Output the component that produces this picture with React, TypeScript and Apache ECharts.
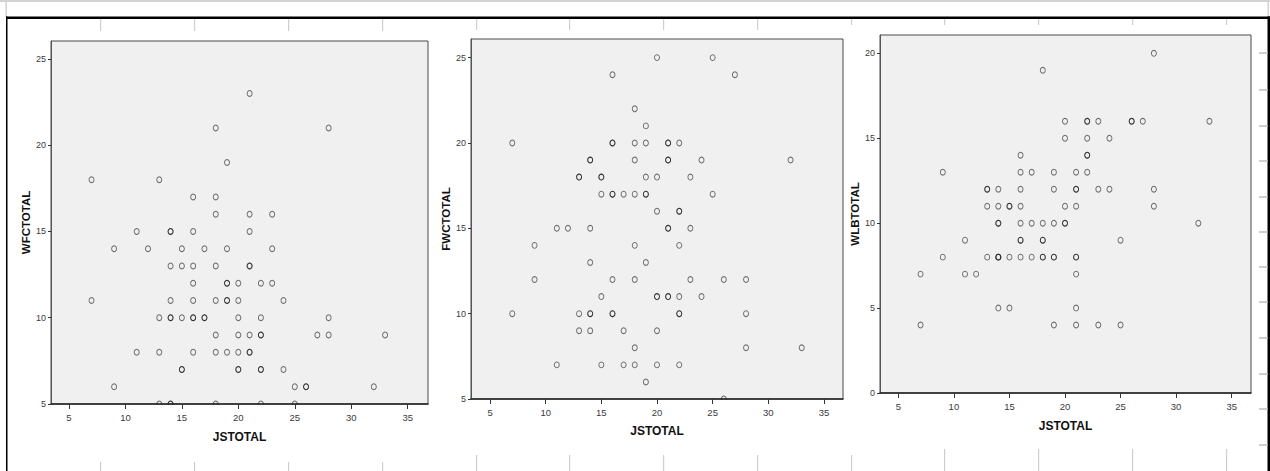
import React, { useEffect, useRef } from "react";
import * as echarts from "echarts";

// ---- Data ----
const xTicks = [5, 10, 15, 20, 25, 30, 35];
const wfcTicks = [5, 10, 15, 20, 25];
const fwcTicks = [5, 10, 15, 20, 25];
const wlbTicks = [0, 5, 10, 15, 20];

// [JSTOTAL, WFCTOTAL]
const wfcPoints: [number, number][] = [
  [21, 23],
  [18, 21], [28, 21],
  [19, 19],
  [7, 18], [13, 18],
  [16, 17], [18, 17],
  [18, 16], [21, 16], [23, 16],
  [11, 15], [14, 15], [14, 15], [16, 15], [21, 15],
  [9, 14], [12, 14], [15, 14], [17, 14], [19, 14], [23, 14],
  [14, 13], [15, 13], [16, 13], [18, 13], [21, 13], [21, 13],
  [16, 12], [19, 12], [19, 12], [20, 12], [22, 12], [23, 12],
  [7, 11], [14, 11], [16, 11], [18, 11], [19, 11], [19, 11], [20, 11], [24, 11],
  [13, 10], [14, 10], [14, 10], [15, 10], [16, 10], [16, 10], [17, 10], [17, 10], [20, 10], [22, 10], [28, 10],
  [18, 9], [20, 9], [21, 9], [22, 9], [22, 9], [27, 9], [28, 9], [33, 9],
  [11, 8], [13, 8], [16, 8], [18, 8], [19, 8], [20, 8], [21, 8], [21, 8],
  [15, 7], [15, 7], [20, 7], [20, 7], [22, 7], [22, 7], [24, 7],
  [9, 6], [25, 6], [26, 6], [26, 6], [32, 6],
  [13, 5], [14, 5], [14, 5], [18, 5], [22, 5], [25, 5],
];

// [JSTOTAL, FWCTOTAL]
const fwcPoints: [number, number][] = [
  [20, 25], [25, 25],
  [16, 24], [27, 24],
  [18, 22],
  [19, 21],
  [7, 20], [16, 20], [16, 20], [18, 20], [19, 20], [21, 20], [21, 20], [22, 20],
  [14, 19], [14, 19], [18, 19], [21, 19], [21, 19], [24, 19], [32, 19],
  [13, 18], [13, 18], [15, 18], [15, 18], [19, 18], [20, 18], [23, 18],
  [15, 17], [16, 17], [16, 17], [17, 17], [18, 17], [19, 17], [19, 17], [25, 17],
  [20, 16], [22, 16], [22, 16],
  [11, 15], [12, 15], [14, 15], [21, 15], [21, 15], [23, 15],
  [9, 14], [18, 14], [22, 14],
  [14, 13], [19, 13],
  [9, 12], [16, 12], [18, 12], [23, 12], [26, 12], [28, 12],
  [15, 11], [20, 11], [20, 11], [21, 11], [21, 11], [22, 11], [24, 11],
  [7, 10], [13, 10], [14, 10], [14, 10], [16, 10], [16, 10], [22, 10], [22, 10], [28, 10],
  [13, 9], [14, 9], [17, 9], [20, 9],
  [18, 8], [28, 8], [33, 8],
  [11, 7], [15, 7], [17, 7], [18, 7], [20, 7], [22, 7],
  [19, 6],
  [26, 5],
];

// [JSTOTAL, WLBTOTAL]
const wlbPoints: [number, number][] = [
  [28, 20],
  [18, 19],
  [20, 16], [22, 16], [22, 16], [23, 16], [26, 16], [26, 16], [27, 16], [33, 16],
  [20, 15], [22, 15], [24, 15],
  [16, 14], [22, 14], [22, 14],
  [9, 13], [16, 13], [17, 13], [19, 13], [21, 13], [22, 13],
  [13, 12], [13, 12], [14, 12], [16, 12], [19, 12], [21, 12], [21, 12], [23, 12], [24, 12], [28, 12],
  [13, 11], [14, 11], [15, 11], [15, 11], [16, 11], [20, 11], [21, 11], [28, 11],
  [14, 10], [14, 10], [16, 10], [17, 10], [18, 10], [19, 10], [20, 10], [20, 10], [32, 10],
  [11, 9], [16, 9], [16, 9], [18, 9], [18, 9], [25, 9],
  [9, 8], [13, 8], [14, 8], [14, 8], [14, 8], [15, 8], [16, 8], [17, 8], [18, 8], [18, 8], [19, 8], [19, 8], [21, 8], [21, 8],
  [7, 7], [11, 7], [12, 7], [21, 7],
  [14, 5], [15, 5], [21, 5],
  [7, 4], [19, 4], [21, 4], [23, 4], [25, 4],
];

// ---- Layout ----
const W = 1270;
const H = 471;
const NARROW = "'Liberation Sans Narrow', 'Arial Narrow', 'Liberation Sans', Arial, sans-serif";
const SANS = "'Liberation Sans', Arial, sans-serif";

const panels = [
  { name: "WFCTOTAL", points: wfcPoints, yTicks: wfcTicks, left: 51, top: 41, width: 377, height: 363, xMin: 3.41, xMax: 36.8, yMin: 5, yMax: 26.04, yGap: 12, xGap: 27, clipBottom: true },
  { name: "FWCTOTAL", points: fwcPoints, yTicks: fwcTicks, left: 471, top: 39, width: 372, height: 360, xMin: 3.29, xMax: 36.71, yMin: 5, yMax: 26.09, yGap: 12, xGap: 26, clipBottom: true },
  { name: "WLBTOTAL", points: wlbPoints, yTicks: wlbTicks, left: 880, top: 35, width: 371, height: 358, xMin: 3.35, xMax: 36.74, yMin: 0, yMax: 21.08, yGap: 11, xGap: 27, clipBottom: false },
];

const topTicks = [
  { x: 100, len: 12 }, { x: 194, len: 12 }, { x: 288, len: 12 }, { x: 382, len: 12 },
  { x: 476, len: 11 }, { x: 569, len: 11 }, { x: 663, len: 11 }, { x: 757, len: 11 },
  { x: 851, len: 6 }, { x: 944, len: 6 }, { x: 1038, len: 6 }, { x: 1132, len: 6 }, { x: 1226, len: 6 },
];
const bottomTicks = [
  { x: 100, from: 462 }, { x: 194, from: 462 }, { x: 288, from: 462 }, { x: 382, from: 462 },
  { x: 476, from: 455 }, { x: 569, from: 455 }, { x: 663, from: 455 }, { x: 757, from: 455 }, { x: 851, from: 455 },
  { x: 944, from: 449 }, { x: 1038, from: 449 }, { x: 1132, from: 449 }, { x: 1226, from: 449 },
];
const rightTicks = [53, 90, 126, 161, 197, 232, 267, 302, 338, 374, 409, 445];

function buildOption() {
  const grid: any[] = [];
  const xAxis: any[] = [];
  const yAxis: any[] = [];
  const series: any[] = [];
  const graphic: any[] = [];

  panels.forEach((p, i) => {
    grid.push({
      left: p.left,
      top: p.top,
      width: p.width,
      height: p.height,
      show: true,
      backgroundColor: "#f0f0f0",
      borderColor: "#4a4a4a",
      borderWidth: 1,
      containLabel: false,
    });
    xAxis.push({
      type: "value",
      gridIndex: i,
      min: p.xMin,
      max: p.xMax,
      z: 6,
      name: "JSTOTAL",
      nameLocation: "middle",
      nameGap: p.xGap,
      nameTextStyle: { fontFamily: NARROW, fontWeight: "bold", fontSize: 12, color: "#111" },
      axisLine: { show: true, lineStyle: { color: "#222", width: 1.5 } },
      axisTick: { show: true, customValues: xTicks, length: 5, lineStyle: { color: "#333", width: 1 } },
      axisLabel: { customValues: xTicks, margin: 8, fontFamily: NARROW, fontSize: 9.5, color: "#3a3a3a" },
      splitLine: { show: false },
    });
    yAxis.push({
      type: "value",
      gridIndex: i,
      min: p.yMin,
      max: p.yMax,
      z: 6,
      name: p.name,
      nameLocation: "middle",
      nameGap: p.yGap,
      nameRotate: 90,
      nameTextStyle: { fontFamily: SANS, fontWeight: "bold", fontSize: 11.5, color: "#111" },
      axisLine: { show: true, lineStyle: { color: "#555", width: 1 } },
      axisTick: { show: true, customValues: p.yTicks, length: 3, lineStyle: { color: "#333", width: 1 } },
      axisLabel: { customValues: p.yTicks, margin: 5, fontFamily: NARROW, fontSize: 9, color: "#3a3a3a" },
      splitLine: { show: false },
    });
    series.push({
      type: "scatter",
      xAxisIndex: i,
      yAxisIndex: i,
      data: p.points,
      symbol: "circle",
      symbolSize: [5, 5.8],
      silent: true,
      z: 2,
      itemStyle: {
        color: "rgba(0,0,0,0)",
        borderColor: "rgba(10,10,10,0.72)",
        borderWidth: 1,
      },
      emphasis: { disabled: true },
    });
    if (p.clipBottom) {
      graphic.push({
        type: "rect",
        z: 4,
        silent: true,
        shape: { x: p.left, y: p.top + p.height + 1, width: p.width + 1, height: 4 },
        style: { fill: "#ffffff" },
      });
    }
  });

  // page frame decorations
  graphic.push(
    { type: "rect", z: 1, silent: true, shape: { x: 0, y: 0, width: W, height: 2 }, style: { fill: "#d3d3d3" } },
    { type: "rect", z: 1, silent: true, shape: { x: 5.5, y: 0, width: 1.5, height: 17 }, style: { fill: "#d3d3d3" } },
    { type: "rect", z: 1, silent: true, shape: { x: 1267.5, y: 0, width: 1.5, height: 17 }, style: { fill: "#d3d3d3" } },
    { type: "rect", z: 1, silent: true, shape: { x: 6, y: 16.5, width: W - 6, height: 2.5 }, style: { fill: "#000" } },
    { type: "rect", z: 1, silent: true, shape: { x: 6, y: 16.5, width: 1.5, height: H - 16.5 }, style: { fill: "#000" } },
    { type: "rect", z: 1, silent: true, shape: { x: 1267.5, y: 16.5, width: 2.5, height: H - 16.5 }, style: { fill: "#000" } }
  );
  topTicks.forEach((t) =>
    graphic.push({ type: "rect", z: 1, silent: true, shape: { x: t.x, y: 19, width: 1.2, height: t.len }, style: { fill: "#cfcfcf" } })
  );
  bottomTicks.forEach((t) =>
    graphic.push({ type: "rect", z: 1, silent: true, shape: { x: t.x, y: t.from, width: 1.2, height: H - t.from }, style: { fill: "#cfcfcf" } })
  );
  rightTicks.forEach((y) =>
    graphic.push({ type: "rect", z: 1, silent: true, shape: { x: 1259, y: y - 1, width: 8.5, height: 2 }, style: { fill: "#cfcfcf" } })
  );

  return {
    animation: false,
    backgroundColor: "#ffffff",
    grid,
    xAxis,
    yAxis,
    series,
    graphic: { elements: graphic },
  };
}

export default function App() {
  const ref = useRef<HTMLDivElement | null>(null);
  useEffect(() => {
    if (!ref.current) return;
    const chart = echarts.init(ref.current, null, { renderer: "svg" });
    chart.setOption(buildOption() as any);
    return () => chart.dispose();
  }, []);
  return (
    <div
      ref={ref}
      style={{ position: "absolute", left: 0, top: 0, width: W, height: H, background: "#fff" }}
    />
  );
}
